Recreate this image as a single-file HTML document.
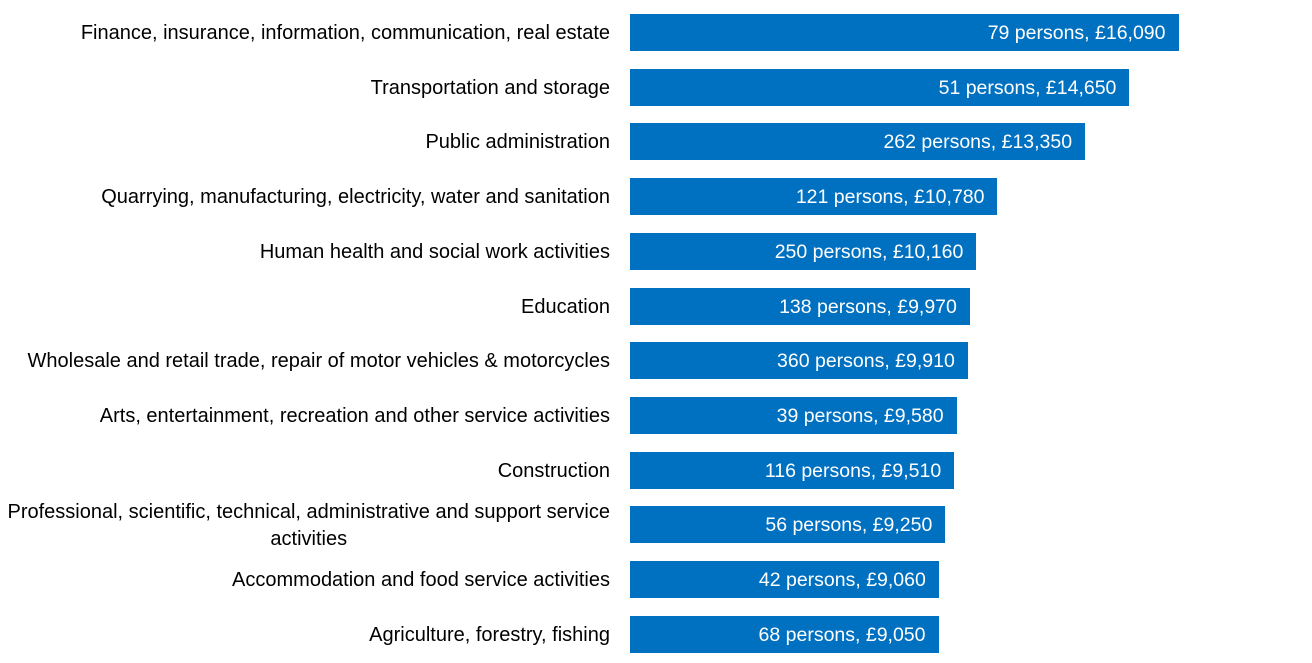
<!DOCTYPE html>
<html><head><meta charset="utf-8"><style>
body{margin:0;width:1312px;height:663px;background:#fff;position:relative;font-family:"Liberation Sans",sans-serif;overflow:hidden}
.l{position:absolute;right:702px;font-size:20px;color:#000;text-align:center;line-height:27px;white-space:nowrap}
.b{position:absolute;left:630px;height:37px;background:#0070C0;color:#fff;font-size:19.5px;line-height:39px;text-align:right;box-sizing:border-box;padding-right:13px;white-space:nowrap}
</style></head><body>
<div id="c"></div>
<script>
var d=[["Finance, insurance, information, communication, real estate",79,16090],
["Transportation and storage",51,14650],
["Public administration",262,13350],
["Quarrying, manufacturing, electricity, water and sanitation",121,10780],
["Human health and social work activities",250,10160],
["Education",138,9970],
["Wholesale and retail trade, repair of motor vehicles &amp; motorcycles",360,9910],
["Arts, entertainment, recreation and other service activities",39,9580],
["Construction",116,9510],
["Professional, scientific, technical, administrative and support service<br>activities",56,9250],
["Accommodation and food service activities",42,9060],
["Agriculture, forestry, fishing",68,9050]];
var h="";
d.forEach(function(r,i){var t=14+i*54.7;var w=r[2]*0.03409;
var two=r[0].indexOf("<br>")>0;
h+='<div class="l" style="top:'+(two?t-7:t+6)+'px">'+r[0]+'</div>';
h+='<div class="b" style="top:'+t+'px;width:'+w+'px">'+r[1]+' persons, £'+r[2].toLocaleString("en-GB")+'</div>';});
document.getElementById("c").innerHTML=h;
</script>
</body></html>
